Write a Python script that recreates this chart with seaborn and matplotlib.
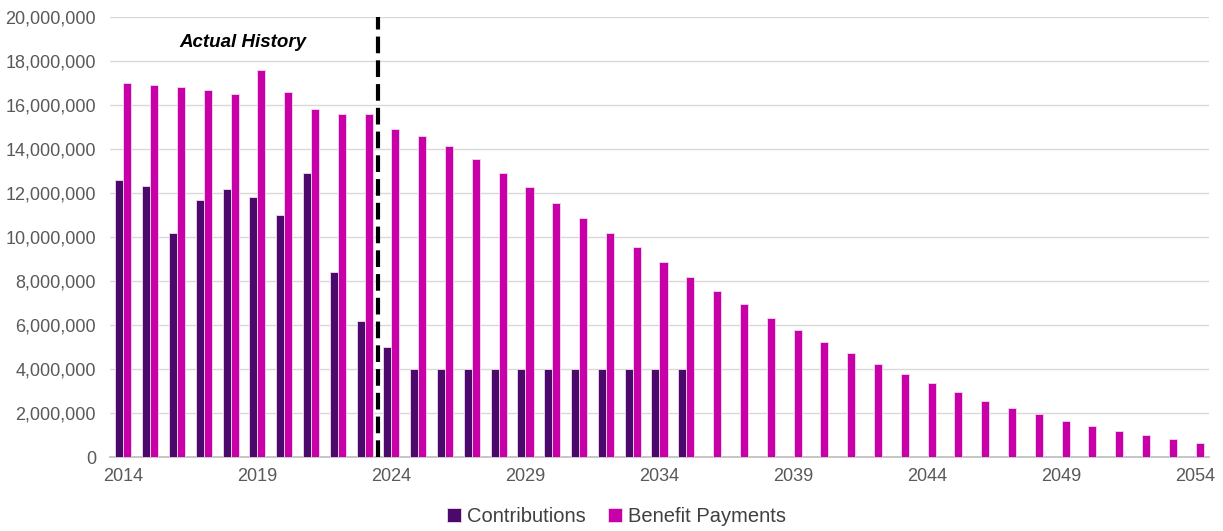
import numpy as np
import pandas as pd
import matplotlib
matplotlib.use("Agg")
import matplotlib.pyplot as plt
import seaborn as sns
from matplotlib.ticker import FuncFormatter

years = list(range(2014, 2055))
contributions = [12.6, 12.3, 10.2, 11.7, 12.2, 11.8, 11.0, 12.9, 8.4, 6.2,
                 5.0, 4.0, 4.0, 4.0, 4.0, 4.0, 4.0, 4.0, 4.0, 4.0, 4.0, 4.0]
benefits = [17.0, 16.9, 16.8, 16.7, 16.5, 17.6, 16.6, 15.8, 15.6, 15.6,
            14.9, 14.6, 14.12, 13.55, 12.92, 12.26, 11.56, 10.86, 10.17, 9.53,
            8.85, 8.17, 7.55, 6.94, 6.33, 5.78, 5.23, 4.73, 4.23, 3.77,
            3.35, 2.95, 2.56, 2.23, 1.94, 1.65, 1.39, 1.17, 0.99, 0.80, 0.65]
series_names = ["Contributions", "Benefit Payments"]
colors = ["#4B0A6B", "#C800A8"]

contrib_full = contributions + [np.nan] * (len(years) - len(contributions))
df = pd.DataFrame({
    "Year": [str(y) for y in years] * 2,
    "Series": [series_names[0]] * len(years) + [series_names[1]] * len(years),
    "Value": [v * 1e6 for v in contrib_full] + [v * 1e6 for v in benefits],
})

sns.set_theme(style="white")
plt.rcParams["font.family"] = ["Liberation Sans", "DejaVu Sans"]

fig = plt.figure(figsize=(12.23, 5.31), dpi=100)
ax = fig.add_axes([110/1223, 1 - 457/531, 1099/1223, 440/531])

sns.barplot(data=df, x="Year", y="Value", hue="Series", palette=colors,
            width=0.6, gap=0, errorbar=None, ax=ax, saturation=1,
            edgecolor="#F2D9EE", linewidth=0.6, zorder=3)

ax.set_xlim(-0.5, len(years) - 0.5)
ax.set_ylim(0, 20e6)
ax.set_yticks(np.arange(0, 20e6 + 1, 2e6))
ax.yaxis.set_major_formatter(FuncFormatter(lambda v, p: f"{int(v):,}"))
ax.grid(axis="y", color="#D9D9D9", linewidth=1, zorder=0)
ax.set_axisbelow(True)

major = list(range(0, len(years), 5))
ax.set_xticks(major)
ax.set_xticklabels([str(years[i]) for i in major])
ax.set_xticks(np.arange(-0.5, len(years), 1), minor=True)
ax.tick_params(axis="x", which="major", length=0, labelsize=13, colors="#595959", pad=8)
ax.tick_params(axis="x", which="minor", length=5, color="#BFBFBF", width=1, direction="out")
ax.tick_params(axis="y", length=0, labelsize=13, colors="#595959", pad=10)
ax.set_xlabel("")
ax.set_ylabel("")
for s in ["top", "right", "left"]:
    ax.spines[s].set_visible(False)
ax.spines["bottom"].set_color("#BFBFBF")

ax.axvline(9.5, ymin=0, ymax=1, color="black", linewidth=3, linestyle=(0, (4, 1.7)), zorder=4)
ax.text(4.46, 18.85e6, "Actual History", ha="center", va="center",
        fontsize=13.5, fontweight="bold", fontstyle="italic", color="black")

handles, labels = ax.get_legend_handles_labels()
ax.legend(handles, labels, loc="center", bbox_to_anchor=(0.461, -0.135), ncol=2,
          frameon=False, fontsize=14.5, handlelength=0.7, handleheight=0.7,
          handletextpad=0.3, columnspacing=1.1, labelcolor="#404040")

fig.savefig("out.png", dpi=100)
